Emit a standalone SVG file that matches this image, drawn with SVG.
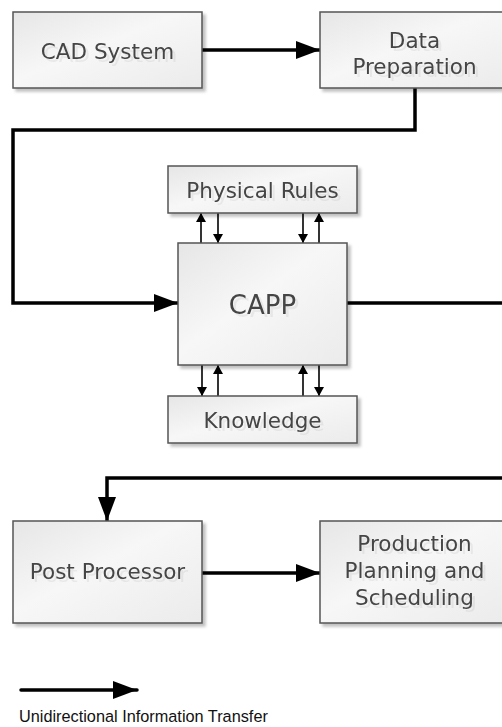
<svg xmlns="http://www.w3.org/2000/svg" width="502" height="727" viewBox="0 0 502 727">
  <defs>
    <linearGradient id="boxFill" x1="0" y1="0" x2="1" y2="1">
      <stop offset="0" stop-color="#e6e6e6"/>
      <stop offset="0.45" stop-color="#f7f7f7"/>
      <stop offset="1" stop-color="#ebebeb"/>
    </linearGradient>
    <filter id="boxShadow" x="-10%" y="-10%" width="125%" height="130%">
      <feGaussianBlur in="SourceAlpha" stdDeviation="1.5"/>
      <feOffset dx="3" dy="3" result="blur"/>
      <feComponentTransfer in="blur" result="shadow">
        <feFuncA type="linear" slope="0.25"/>
      </feComponentTransfer>
      <feMerge>
        <feMergeNode in="shadow"/>
        <feMergeNode in="SourceGraphic"/>
      </feMerge>
    </filter>
    <filter id="textGhost" x="-10%" y="-30%" width="125%" height="170%">
      <feOffset in="SourceGraphic" dx="3" dy="3" result="off"/>
      <feComponentTransfer in="off" result="ghost">
        <feFuncA type="linear" slope="0.08"/>
      </feComponentTransfer>
      <feMerge>
        <feMergeNode in="ghost"/>
        <feMergeNode in="SourceGraphic"/>
      </feMerge>
    </filter>
    <marker id="head" markerUnits="userSpaceOnUse" markerWidth="24" markerHeight="18" refX="24" refY="9" orient="auto">
      <path d="M0,0 L24,9 L0,18 Z" fill="#000"/>
    </marker>
    <marker id="headSmall" markerUnits="userSpaceOnUse" markerWidth="9" markerHeight="10" refX="9" refY="5" orient="auto">
      <path d="M0,0 L9,5 L0,10 Z" fill="#000"/>
    </marker>
  </defs>
  <style>
    .box { fill: url(#boxFill); stroke: #555; stroke-width: 1.5; filter: url(#boxShadow); }
    .label { font-family: "DejaVu Sans", Verdana, sans-serif; font-size: 21.5px; fill: #454545; text-anchor: middle; filter: url(#textGhost); }
    .big { font-size: 26px; }
    .flow { fill: none; stroke: #000; stroke-width: 3.5; stroke-linejoin: miter; marker-end: url(#head); }
    .flow-plain { fill: none; stroke: #000; stroke-width: 3.5; stroke-linejoin: miter; }
    .link { fill: none; stroke: #000; stroke-width: 1.6; marker-end: url(#headSmall); }
    .legend { font-family: "Liberation Sans", Arial, sans-serif; font-size: 16.3px; fill: #111; }
  </style>

  <rect width="502" height="727" fill="#fff"/>

  <!-- connectors -->
  <g id="connectors">
    <path class="flow" d="M202,50 H320"/>
    <path class="flow" d="M415,88 V130 H13 V303 H178"/>
    <path class="flow-plain" d="M347,303 H510"/>
    <path class="flow" d="M510,478 H107 V521"/>
    <path class="flow" d="M202,573 H320"/>
    <!-- CAPP / Physical Rules -->
    <path class="link" d="M201,243 V213"/>
    <path class="link" d="M218,213 V243"/>
    <path class="link" d="M303,213 V243"/>
    <path class="link" d="M319,243 V213"/>
    <!-- CAPP / Knowledge -->
    <path class="link" d="M202,365 V396"/>
    <path class="link" d="M218,396 V365"/>
    <path class="link" d="M303,396 V365"/>
    <path class="link" d="M319,365 V396"/>
  </g>

  <g id="cad-system">
    <rect class="box" x="13" y="12" width="189" height="76"/>
    <text class="label" x="107.5" y="59">CAD System</text>
  </g>

  <g id="data-preparation">
    <rect class="box" x="320" y="12" width="189" height="76"/>
    <text class="label" x="414.5" y="48">Data</text>
    <text class="label" x="414.5" y="74">Preparation</text>
  </g>

  <g id="physical-rules">
    <rect class="box" x="168" y="166" width="189" height="47"/>
    <text class="label" x="262.5" y="197.5">Physical Rules</text>
  </g>

  <g id="capp">
    <rect class="box" x="178" y="243" width="169" height="122"/>
    <text class="label big" x="262.5" y="314">CAPP</text>
  </g>

  <g id="knowledge">
    <rect class="box" x="168" y="396" width="189" height="47"/>
    <text class="label" x="262.5" y="427.5">Knowledge</text>
  </g>

  <g id="post-processor">
    <rect class="box" x="13" y="521" width="189" height="102"/>
    <text class="label" x="107.5" y="579">Post Processor</text>
  </g>

  <g id="production-planning">
    <rect class="box" x="320" y="521" width="189" height="102"/>
    <text class="label" x="414.5" y="551">Production</text>
    <text class="label" x="414.5" y="578">Planning and</text>
    <text class="label" x="414.5" y="605">Scheduling</text>
  </g>

  <!-- legend -->
  <g id="legend">
    <path d="M21,690 H137" fill="none" stroke="#000" stroke-width="3.5" stroke-linecap="round" marker-end="url(#head)"/>
    <text class="legend" x="19" y="722">Unidirectional Information Transfer</text>
  </g>
</svg>
